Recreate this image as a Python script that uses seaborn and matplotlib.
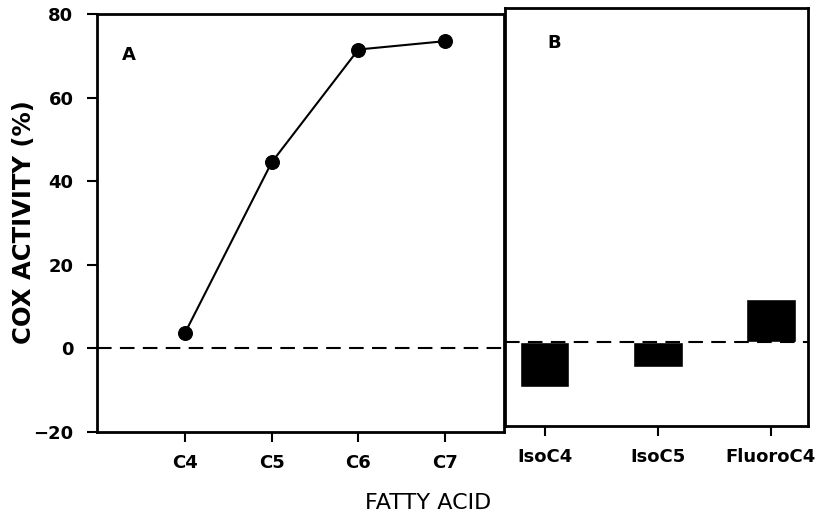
import numpy as np
import pandas as pd
import matplotlib
matplotlib.use("Agg")
import matplotlib.pyplot as plt
import seaborn as sns

# Panel A: straight-chain fatty acids
chain_length = [4, 5, 6, 7]
chain_labels = ["C4", "C5", "C6", "C7"]
chain_activity = [3.7, 44.5, 71.5, 73.5]

# Panel B: branched / substituted fatty acids
other_labels = ["IsoC4", "IsoC5", "FluoroC4"]
other_activity = [-10.7, -5.8, 10.5]

sns.set_style("ticks")
plt.rcParams["font.family"] = ["DejaVu Sans"]
plt.rcParams["font.weight"] = "bold"
plt.rcParams["text.color"] = "black"
plt.rcParams["axes.labelcolor"] = "black"

fig = plt.figure(figsize=(8.18, 5.16), dpi=100)
ax_a = fig.add_axes([0.1186, 0.1628, 0.6161 - 0.1186, 0.9729 - 0.1628])
ax_b = fig.add_axes([0.6174, 0.1744, 0.9878 - 0.6174, 0.9845 - 0.1744])

df_a = pd.DataFrame({"chain": chain_length, "activity": chain_activity})
sns.lineplot(data=df_a, x="chain", y="activity", ax=ax_a, color="black",
             marker="o", markersize=10, markeredgecolor="black", linewidth=1.5)
ax_a.axhline(0, color="black", linestyle=(0, (7, 4)), linewidth=1.5)
ax_a.set_xlim(2.985, 7.68)
ax_a.set_ylim(-20, 80)
ax_a.set_xticks(chain_length)
ax_a.set_xticklabels(chain_labels)
ax_a.set_yticks([-20, 0, 20, 40, 60, 80])
ax_a.set_xlabel("")
ax_a.set_ylabel("")
ax_a.text(0.06, 0.89, "A", transform=ax_a.transAxes, fontsize=13, fontweight="bold")

df_b = pd.DataFrame({"acid": other_labels, "activity": other_activity})
sns.barplot(data=df_b, x="acid", y="activity", ax=ax_b, color="black",
            width=0.44, saturation=1)
ax_b.axhline(0, color="black", linestyle=(0, (7, 4)), linewidth=1.5)
ax_b.set_xlim(-0.35, 2.33)
ax_b.set_ylim(-20, 80)
ax_b.set_yticks([])
ax_b.set_xlabel("")
ax_b.set_ylabel("")
ax_b.text(0.14, 0.905, "B", transform=ax_b.transAxes, fontsize=13, fontweight="bold")

for ax in (ax_a, ax_b):
    for s in ax.spines.values():
        s.set_visible(True)
        s.set_linewidth(2)
        s.set_color("black")
    ax.tick_params(axis="both", direction="out", length=7, width=1.5,
                   labelsize=13, colors="black")
    ax.tick_params(axis="y", pad=10)
    ax.tick_params(axis="x", pad=9)
    for lab in ax.get_xticklabels() + ax.get_yticklabels():
        lab.set_fontweight("bold")

fig.text(24 / 818, 1 - 222 / 516, "COX ACTIVITY (%)", rotation=90,
         ha="center", va="center", fontsize=17.5, fontweight="bold")
fig.text(428 / 818, 1 - 503 / 516, "FATTY ACID", ha="center", va="center",
         fontsize=16, fontweight="normal")

fig.savefig("out.png", dpi=100)
